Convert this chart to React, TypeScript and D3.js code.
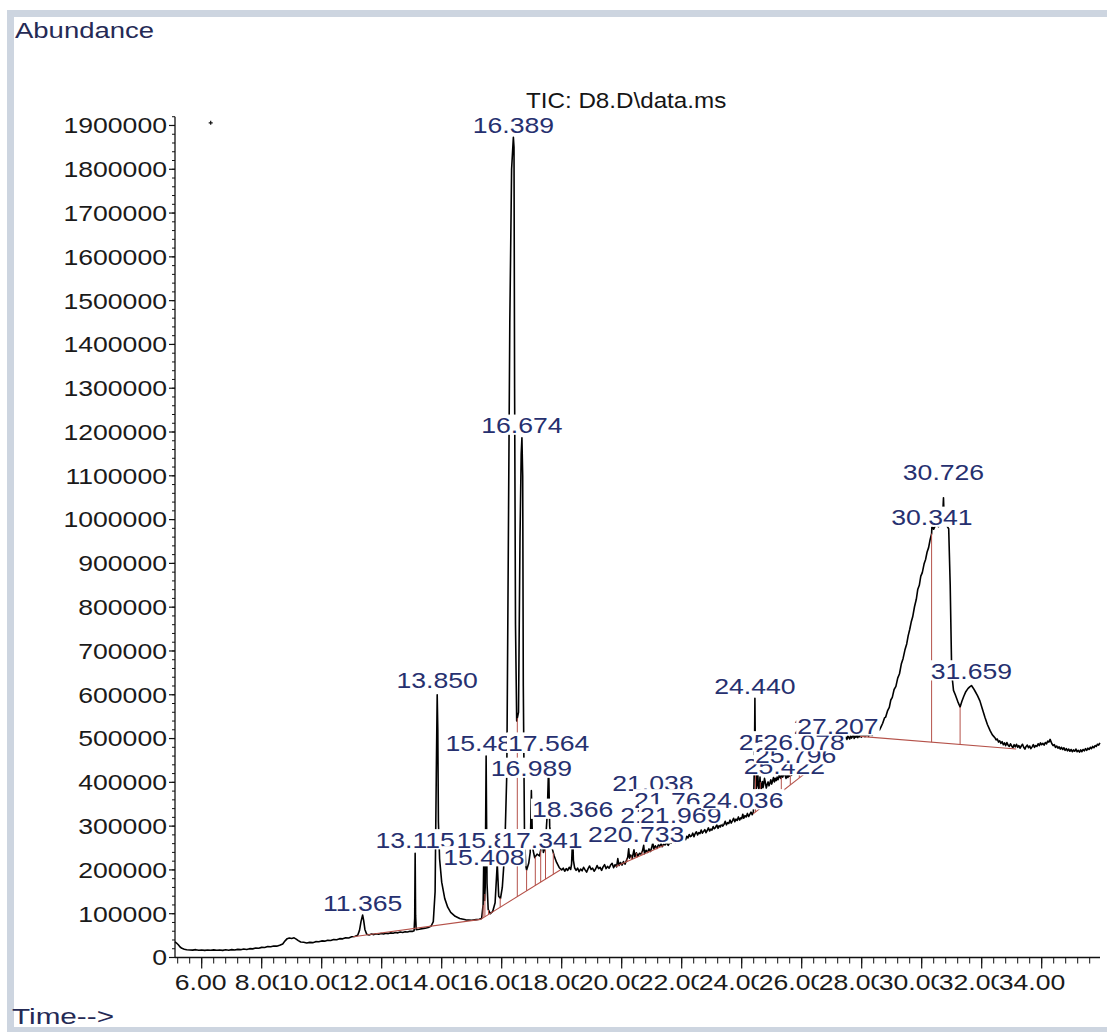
import React from "react";
import * as d3 from "d3";

const WIDTH = 1107;
const HEIGHT = 1032;

// Total ion chromatogram, [retention time (min), abundance]
const traceEarly: [number, number][] = [
  [5.11, 36000], [5.16, 33000], [5.22, 29000], [5.28, 24000], [5.34, 21000], [5.42, 19000],
  [5.5, 17800], [5.6, 17200], [5.7, 16800], [5.8, 17900], [5.9, 16600], [6.0, 17300],
  [6.1, 16300], [6.2, 17200], [6.3, 16400], [6.4, 17500], [6.5, 16500], [6.6, 17300],
  [6.7, 16200], [6.8, 17600], [6.9, 16700], [7.0, 18000], [7.1, 17000], [7.2, 18500],
  [7.3, 17900], [7.4, 19300], [7.5, 18400], [7.6, 20200], [7.7, 19700], [7.8, 21500],
  [7.9, 21200], [8.0, 23100], [8.1, 23000], [8.2, 25100], [8.3, 24600], [8.4, 26300],
  [8.5, 25900], [8.6, 27800], [8.7, 31000], [8.78, 38000], [8.85, 43000], [8.92, 44500],
  [9.0, 43400], [9.08, 44900], [9.15, 42000], [9.22, 38500], [9.3, 35500], [9.4, 34800],
  [9.5, 33200], [9.6, 34500], [9.7, 33900], [9.8, 36200], [9.9, 35800], [10.0, 37900],
  [10.1, 37300], [10.2, 39400], [10.3, 38800], [10.4, 41200], [10.5, 40600], [10.6, 43000],
  [10.7, 42600], [10.8, 45100], [10.9, 44700], [11.0, 47200], [11.1, 48100], [11.2, 51000],
  [11.26, 62000], [11.31, 82000], [11.365, 97000], [11.4, 84000], [11.44, 64000], [11.5, 53000],
  [11.58, 51500], [11.66, 53600], [11.74, 52300], [11.82, 54200], [11.9, 53100], [11.98, 54800],
  [12.06, 53700], [12.14, 55500], [12.22, 54600], [12.3, 56200], [12.38, 55400], [12.46, 57000],
  [12.54, 56300], [12.62, 58100], [12.7, 57200], [12.78, 58900], [12.86, 58300], [12.94, 60100],
  [13.02, 59600], [13.08, 61000], [13.1, 90000], [13.115, 238000], [13.13, 95000], [13.15, 63500],
  [13.25, 64500], [13.35, 66000], [13.45, 67000], [13.55, 68500], [13.65, 72000], [13.72, 82000],
  [13.78, 150000], [13.82, 420000], [13.85, 600000], [13.87, 520000], [13.89, 310000], [13.93, 225000],
  [14.0, 172000], [14.1, 135000], [14.2, 115000], [14.3, 103000], [14.45, 94000], [14.6, 89000],
  [14.8, 86000], [15.0, 85000], [15.15, 86500], [15.25, 87500],
];

const traceMain: [number, number][] = [
  [15.33, 89000], [15.38, 120000], [15.408, 250000], [15.43, 130000], [15.45, 160000],
  [15.481, 460000], [15.51, 170000], [15.55, 110000], [15.62, 100000], [15.7, 105000],
  [15.78, 125000], [15.852, 215000], [15.9, 140000], [15.96, 135000], [16.02, 160000],
  [16.1, 240000], [16.17, 420000], [16.22, 930000], [16.27, 1450000], [16.33, 1800000],
  [16.389, 1873000], [16.41, 1850000], [16.43, 1300000], [16.46, 760000], [16.5, 540000],
  [16.56, 560000], [16.61, 960000], [16.65, 1150000], [16.674, 1187000], [16.7, 1100000],
  [16.72, 620000], [16.76, 280000], [16.8, 210000], [16.83, 200000], [16.9, 215000],
  [16.95, 240000], [16.989, 381000], [17.03, 250000], [17.1, 228000], [17.18, 236000],
  [17.26, 232000], [17.3, 245000], [17.341, 270000], [17.39, 240000], [17.45, 252000],
  [17.52, 330000], [17.564, 440000], [17.6, 300000], [17.67, 252000], [17.75, 232000],
  [17.83, 217000], [17.92, 205000],
];

const traceMiddle: [number, number][] = [
  [18.0, 200000], [18.05, 204000], [18.1, 197000], [18.15, 203000], [18.2, 199000],
  [18.25, 206000], [18.3, 201000], [18.33, 214000], [18.366, 280000], [18.39, 222000],
  [18.43, 205000], [18.48, 199000], [18.53, 204000], [18.58, 196000], [18.63, 202000],
  [18.68, 198000], [18.73, 206000], [18.78, 200000], [18.83, 195000], [18.88, 203000],
  [18.93, 209000], [18.98, 201000], [19.03, 204000], [19.08, 197000], [19.13, 202000],
  [19.18, 210000], [19.23, 203000], [19.28, 206000], [19.33, 199000], [19.38, 207000],
  [19.43, 212000], [19.48, 203000], [19.53, 208000], [19.58, 204000], [19.63, 211000],
  [19.68, 215000], [19.73, 205000], [19.78, 212000], [19.83, 207000], [19.87, 226000],
  [19.91, 210000], [19.96, 217000], [20.01, 211000], [20.06, 219000], [20.11, 213000],
  [20.16, 222000], [20.2, 229000], [20.233, 248000], [20.26, 227000], [20.3, 234000],
  [20.35, 226000], [20.41, 246000], [20.44, 230000], [20.49, 239000], [20.54, 231000],
  [20.59, 238000], [20.64, 236000], [20.69, 243000], [20.733, 256000], [20.76, 237000],
  [20.81, 245000], [20.86, 240000], [20.91, 248000], [20.96, 242000], [21.0, 251000],
  [21.038, 262000], [21.07, 248000], [21.12, 255000], [21.17, 249000], [21.22, 257000],
  [21.27, 254000], [21.312, 260000], [21.35, 253000], [21.4, 259000], [21.45, 257000],
  [21.5, 263000], [21.55, 256000], [21.6, 262000], [21.65, 261000], [21.7, 267000],
  [21.767, 272000], [21.8, 263000], [21.85, 269000], [21.9, 266000], [21.969, 275000],
  [22.01, 268000], [22.05, 274000], [22.09, 271000], [22.13, 269000], [22.17, 277000],
  [22.21, 273000], [22.25, 281000], [22.29, 276000], [22.33, 278000], [22.37, 284000],
  [22.41, 276000], [22.45, 283000], [22.49, 287000], [22.53, 280000], [22.57, 285000],
  [22.61, 283000], [22.65, 291000], [22.69, 284000], [22.73, 288000], [22.77, 292000],
  [22.81, 285000], [22.85, 290000], [22.89, 296000], [22.93, 289000], [22.97, 293000],
  [23.01, 291000], [23.05, 299000], [23.09, 294000], [23.13, 297000], [23.17, 303000],
  [23.21, 295000], [23.25, 301000], [23.29, 298000], [23.33, 306000], [23.37, 300000],
  [23.41, 304000], [23.45, 311000], [23.49, 303000], [23.53, 308000], [23.57, 306000],
  [23.61, 314000], [23.65, 307000], [23.69, 312000], [23.73, 318000], [23.77, 310000],
  [23.81, 316000], [23.85, 313000], [23.89, 321000], [23.93, 314000], [23.97, 319000],
  [24.0, 317000], [24.036, 327000], [24.07, 318000], [24.11, 324000], [24.15, 321000],
  [24.19, 329000], [24.23, 322000], [24.27, 327000], [24.31, 332000], [24.35, 326000],
  [24.39, 333000], [24.425, 450000], [24.44, 592000], [24.455, 470000],
];

const traceLate: [number, number][] = [
  [24.47, 400000], [24.49, 386000], [24.51, 395000], [24.53, 432000], [24.55, 398000],
  [24.57, 384000], [24.59, 391000], [24.61, 412000], [24.63, 389000], [24.65, 383000],
  [24.67, 396000], [24.69, 402000], [24.71, 388000], [24.73, 394000], [24.76, 409000],
  [24.79, 399000], [24.82, 387000], [24.85, 395000], [24.88, 401000], [24.91, 392000],
  [24.94, 398000], [24.97, 406000], [25.0, 396000], [25.03, 403000], [25.06, 411000],
  [25.09, 401000], [25.12, 409000], [25.15, 404000], [25.18, 412000], [25.21, 406000],
  [25.24, 413000], [25.262, 428000], [25.28, 411000], [25.31, 409000], [25.34, 417000],
  [25.37, 412000], [25.4, 418000], [25.422, 430000], [25.45, 415000], [25.48, 409000],
  [25.51, 416000], [25.54, 411000], [25.57, 419000], [25.6, 414000], [25.63, 420000],
  [25.66, 416000], [25.69, 423000], [25.72, 419000], [25.75, 427000], [25.78, 431000],
  [25.796, 443000], [25.82, 429000], [25.85, 424000], [25.88, 431000], [25.91, 427000],
  [25.94, 434000], [25.97, 430000], [26.0, 438000], [26.03, 435000], [26.06, 444000],
  [26.078, 458000], [26.1, 442000], [26.14, 437000], [26.18, 443000], [26.22, 439000],
  [26.26, 446000], [26.3, 443000], [26.38, 451000], [26.5, 460000], [26.62, 468000],
  [26.75, 477000], [26.88, 486000], [26.98, 492000], [27.04, 494000], [27.093, 506000],
  [27.14, 497000], [27.207, 512000], [27.24, 501000], [27.27, 497000], [27.3, 504000],
  [27.33, 499000], [27.36, 502000], [27.39, 497000], [27.42, 505000], [27.45, 500000],
  [27.48, 503000], [27.51, 498000], [27.54, 506000], [27.57, 502000], [27.6, 499000],
  [27.63, 507000], [27.66, 501000], [27.69, 504000], [27.72, 509000], [27.75, 500000],
  [27.78, 506000], [27.81, 503000], [27.84, 510000], [27.87, 502000], [27.9, 506000],
  [27.93, 504000], [27.96, 511000], [27.99, 503000], [28.02, 507000], [28.05, 506000],
  [28.08, 512000], [28.11, 504000], [28.14, 509000], [28.17, 507000], [28.2, 513000],
  [28.23, 505000], [28.26, 511000], [28.29, 509000], [28.32, 514000], [28.35, 507000],
  [28.38, 512000], [28.41, 510000], [28.44, 516000], [28.47, 510000], [28.5, 514000],
  [28.53, 513000], [28.56, 518000], [28.6, 520000], [28.64, 526000],
];

const traceTail: [number, number][] = [
  [28.7, 535000], [28.76, 547000], [28.8, 549000], [28.86, 563000], [28.92, 571000],
  [28.97, 588000], [29.02, 594000], [29.08, 612000], [29.14, 619000], [29.2, 638000],
  [29.26, 648000], [29.32, 670000], [29.38, 683000], [29.44, 702000], [29.5, 716000],
  [29.55, 735000], [29.6, 749000], [29.65, 766000], [29.7, 778000], [29.76, 801000],
  [29.82, 818000], [29.87, 841000], [29.92, 850000], [29.97, 871000], [30.02, 879000],
  [30.08, 899000], [30.13, 909000], [30.18, 926000], [30.23, 936000], [30.28, 954000],
  [30.33, 968000], [30.341, 985000], [30.4, 978000], [30.48, 990000], [30.56, 984000],
  [30.64, 995000], [30.7, 1010000], [30.726, 1050000], [30.75, 1000000], [30.82, 988000],
  [30.9, 979000], [30.95, 850000], [31.0, 650000], [31.06, 610000], [31.12, 600000],
  [31.2, 585000], [31.28, 572000], [31.34, 585000], [31.4, 596000], [31.47, 607000],
  [31.54, 614000], [31.6, 618000], [31.659, 621000], [31.72, 615000], [31.78, 608000],
  [31.86, 598000], [31.94, 586000], [32.02, 568000], [32.11, 548000], [32.19, 532000],
  [32.28, 518000], [32.36, 508000], [32.4, 505000], [32.44, 502000], [32.48, 497000],
  [32.52, 499000], [32.56, 492000], [32.6, 495000], [32.64, 489000], [32.68, 493000],
  [32.72, 486000], [32.76, 490000], [32.8, 484000], [32.84, 491000], [32.88, 485000],
  [32.92, 482000], [32.96, 488000], [33.0, 483000], [33.04, 479000], [33.08, 486000],
  [33.12, 481000], [33.16, 487000], [33.2, 480000], [33.24, 484000], [33.28, 478000],
  [33.32, 483000], [33.36, 487000], [33.4, 480000], [33.44, 476000], [33.48, 482000],
  [33.52, 485000], [33.56, 479000], [33.6, 483000], [33.64, 477000], [33.68, 481000],
  [33.72, 486000], [33.76, 480000], [33.8, 484000], [33.84, 482000], [33.88, 488000],
  [33.92, 484000], [33.96, 490000], [34.0, 486000], [34.04, 489000], [34.08, 485000],
  [34.12, 491000], [34.16, 488000], [34.2, 494000], [34.24, 492000], [34.28, 498000],
  [34.31, 493000], [34.34, 488000], [34.38, 484000], [34.42, 486000], [34.46, 480000],
  [34.5, 483000], [34.54, 478000], [34.58, 481000], [34.62, 476000], [34.66, 480000],
  [34.7, 475000], [34.74, 479000], [34.78, 473000], [34.82, 477000], [34.86, 472000],
  [34.9, 476000], [34.94, 471000], [34.98, 475000], [35.02, 470000], [35.06, 474000],
  [35.1, 471000], [35.14, 476000], [35.18, 470000], [35.22, 473000], [35.26, 469000],
  [35.3, 474000], [35.34, 470000], [35.38, 475000], [35.42, 472000], [35.46, 477000],
  [35.5, 473000], [35.54, 478000], [35.58, 475000], [35.62, 480000], [35.66, 477000],
  [35.7, 482000], [35.74, 479000], [35.78, 484000], [35.82, 482000], [35.86, 487000],
  [35.9, 485000], [35.94, 490000],
];

// Integrated peaks: retention time label and the abundance level the label sits at
const peakTimes = [
  "11.365", "13.115", "13.850", "15.408", "15.481", "15.852", "16.389", "16.674",
  "16.989", "17.341", "17.564", "18.366", "20.233", "20.733", "21.038", "21.312",
  "21.767", "21.969", "24.036", "24.440", "25.262", "25.422", "25.796", "26.078",
  "27.093", "27.207", "30.341", "30.726", "31.659",
];
const labelLevels = [
  124500, 268300, 633700, 229500, 488700, 268300, 1900000, 1215000,
  431600, 268300, 488700, 338000, 282000, 282000, 398500, 325400,
  359700, 325400, 359700, 620000, 492100, 437300, 462400, 492100,
  528600, 528600, 1004800, 1107500, 654000,
];

// Integration baselines: [t start, abundance, t end, abundance]
const integrationBaselines: [number, number, number, number][] = [
  [11.05, 47500, 15.3, 87000],
  [15.3, 87000, 17.95, 200000],
  [19.8, 208000, 21.4, 256000],
  [24.38, 328000, 26.2, 425000],
  [27.95, 505000, 33.15, 476000],
];

// Peak split (drop) lines
const dropTimes = [
  15.38, 15.44, 15.56, 15.95, 16.52, 16.83, 17.12, 17.3, 17.46, 17.72,
  20.18, 20.32, 20.49, 20.68, 20.88, 21.15, 24.46, 24.62, 25.32, 25.62, 25.92,
  30.33, 31.28,
];

const timeTickLabels = [
  "6.00", "8.00", "10.00", "12.00", "14.00", "16.00", "18.00", "20.00",
  "22.00", "24.00", "26.00", "28.00", "30.00", "32.00", "34.00",
];
const abundanceTickLabels = [
  "0", "100000", "200000", "300000", "400000", "500000", "600000", "700000",
  "800000", "900000", "1000000", "1100000", "1200000", "1300000", "1400000",
  "1500000", "1600000", "1700000", "1800000", "1900000",
];

const cursorMark: [number, number] = [6.3, 1906000];

const FONT = "'Liberation Sans', Arial, Helvetica, sans-serif";
const FS = 22;
const SX = 1.21;
const CAP = 0.716 * FS;

const glyphWidth = (s: string, sx = SX) =>
  Array.from(s).reduce((w, c) => w + (c === "." || c === ":" || c === " " || c === "\\" ? 0.278 : 0.556), 0) * FS * sx;

const x = d3.scaleLinear().domain([5.11, 35.95]).range([175, 1100.2]);
const y = d3.scaleLinear().domain([0, 1920000]).range([957.5, 957.5 - 1920000 / 2283.6]);

const trace = [...traceEarly, ...traceMain, ...traceMiddle, ...traceLate, ...traceTail];
const traceAt = (t: number) => {
  const i = d3.bisector((d: [number, number]) => d[0]).left(trace, t);
  if (i <= 0) return trace[0][1];
  if (i >= trace.length) return trace[trace.length - 1][1];
  const [t0, v0] = trace[i - 1];
  const [t1, v1] = trace[i];
  return v0 + ((v1 - v0) * (t - t0)) / (t1 - t0);
};
const baselineAt = (t: number) => {
  const seg = integrationBaselines.find((s) => t >= s[0] && t <= s[2]);
  if (!seg) return null;
  return seg[1] + ((seg[3] - seg[1]) * (t - seg[0])) / (seg[2] - seg[0]);
};

function StretchText(props: {
  x: number; y: number; text: string; anchor?: string; fill: string; size?: number; sx?: number;
}) {
  const { text, anchor = "start", fill, size = FS, sx = SX } = props;
  return (
    <text
      transform={`translate(${props.x},${props.y}) scale(${sx},1)`}
      textAnchor={anchor}
      fontFamily={FONT}
      fontSize={size}
      fill={fill}
    >
      {text}
    </text>
  );
}

export default function App() {
  const line = d3
    .line<[number, number]>()
    .x((d) => x(d[0]))
    .y((d) => y(d[1]));

  const yMinor = d3.range(0, 1920001, 20000);
  const xMinor = d3.range(5.2, 35.9, 0.4);

  const labels = peakTimes
    .map((t, i) => ({ t, rt: +t, level: labelLevels[i] }))
    .sort((a, b) => a.rt - b.rt);

  return (
    <svg
      width={WIDTH}
      height={HEIGHT}
      style={{ position: "absolute", left: 0, top: 0, background: "#fff" }}
    >
      {/* window frame */}
      <rect x={0} y={0} width={WIDTH} height={HEIGHT} fill="#fff" />
      <rect x={7} y={10} width={WIDTH - 7} height={7} fill="#cdd5e0" />
      <rect x={7} y={10} width={7} height={HEIGHT - 10} fill="#cdd5e0" />
      <rect x={7} y={1027} width={WIDTH - 7} height={5} fill="#cdd5e0" />

      <StretchText x={15} y={38} text="Abundance" fill="#252a55" sx={1.25} />
      <StretchText x={12} y={1024} text="Time-->" fill="#252a55" sx={1.35} />
      <StretchText x={526} y={108} text="TIC: D8.D\data.ms" fill="#151515" sx={1.1} />

      {/* y axis */}
      <line x1={175} x2={175} y1={y(1920000)} y2={y(0)} stroke="#111" strokeWidth={1.3} />
      {yMinor.map((v) => (
        <line key={"ym" + v} x1={172} x2={175} y1={y(v)} y2={y(v)} stroke="#111" strokeWidth={1} />
      ))}
      {abundanceTickLabels.map((s) => (
        <g key={"yl" + s}>
          <line x1={169} x2={175} y1={y(+s)} y2={y(+s)} stroke="#111" strokeWidth={1.2} />
          <StretchText x={167} y={y(+s) + CAP / 2} text={s} anchor="end" fill="#1a1a1a" />
        </g>
      ))}

      {/* x axis; each time label sits in a white cell that hides the tail of the previous one */}
      <line x1={175} x2={1100} y1={y(0)} y2={y(0)} stroke="#111" strokeWidth={1.3} />
      {xMinor.map((t) => (
        <line key={"xm" + t} x1={x(t)} x2={x(t)} y1={y(0)} y2={y(0) + 6} stroke="#111" strokeWidth={1} />
      ))}
      {timeTickLabels.map((s) => {
        const tx = x(+s);
        const intDigits = s.split(".")[0].length;
        const left = tx - 27 - 16 * (intDigits - 1);
        const w = glyphWidth(s);
        return (
          <g key={"xl" + s}>
            <line x1={tx} x2={tx} y1={y(0)} y2={y(0) + 11} stroke="#111" strokeWidth={1.2} />
            <rect x={left} y={972} width={w} height={22} fill="#fff" />
            <StretchText x={left} y={990} text={s} fill="#1a1a1a" />
          </g>
        );
      })}

      {/* chromatogram */}
      <path d={line(trace) ?? ""} fill="none" stroke="#000" strokeWidth={1.6} strokeLinejoin="round" />

      {/* integration marks */}
      {integrationBaselines.map((s, i) => (
        <line key={"bl" + i} x1={x(s[0])} y1={y(s[1])} x2={x(s[2])} y2={y(s[3])} stroke="#b5524a" strokeWidth={1.1} />
      ))}
      {dropTimes.map((t) => {
        const b = baselineAt(t);
        if (b === null) return null;
        return (
          <line key={"dl" + t} x1={x(t)} x2={x(t)} y1={y(b)} y2={y(traceAt(t))} stroke="#b5524a" strokeWidth={1} />
        );
      })}

      <path
        d={`M${x(cursorMark[0]) - 2},${y(cursorMark[1])}h4M${x(cursorMark[0])},${y(cursorMark[1]) - 2}v4`}
        stroke="#111"
        strokeWidth={1.2}
      />

      {/* peak retention time labels */}
      {labels.map((l) => {
        const cx = x(l.rt);
        const base = y(l.level) + CAP / 2;
        const w = glyphWidth(l.t);
        return (
          <g key={"pl" + l.t}>
            <rect x={cx - w / 2 - 1} y={base - CAP - 3} width={w + 2} height={CAP + 4.5} fill="#fff" />
            <StretchText x={cx} y={base} text={l.t} anchor="middle" fill="#26306f" />
          </g>
        );
      })}
    </svg>
  );
}
